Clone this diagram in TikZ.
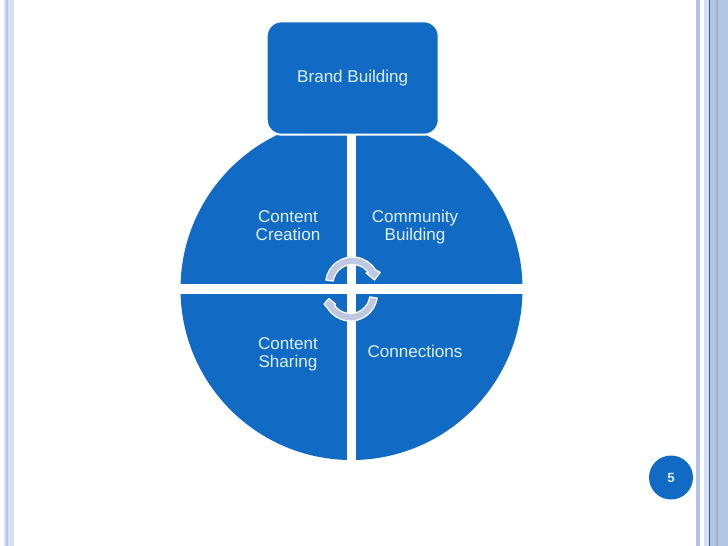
\documentclass[tikz,border=0pt]{standalone}
\usepackage{fontspec}
\setmainfont{Liberation Sans}
\usepackage{tikz}

\definecolor{colBlue}{HTML}{116BC4}
\definecolor{colText}{HTML}{DDF0FB}
\definecolor{colBand}{HTML}{B4C5E4}
\definecolor{colBandDark}{HTML}{9DB3D8}
\definecolor{colPale}{HTML}{D5DFF1}
\definecolor{colArrow}{HTML}{BFC8E2}

\tikzset{
  quadLabel/.style={text=colText, font=\fontsize{12.8}{13.6}\selectfont, align=center},
  turnArrow/.style={fill=colArrow, draw=white, line width=0.9pt, line join=round},
}

\begin{document}
\begin{tikzpicture}[x=0.75pt,y=-0.75pt]

% Pagina
\useasboundingbox (0,0) rectangle (728,546);
\fill[white] (0,0) rectangle (728,546);

% Bande a sinistra
\fill[colPale] (4,0) rectangle (14,546);
\fill[colBand] (6,0) rectangle (8,546);

% Bande a destra
\fill[colBand] (696,0) rectangle (699.5,546);
\fill[colPale] (704,0) rectangle (709,546);
\fill[colBand] (709,0) rectangle (728,546);
\fill[colBandDark] (716,0) rectangle (717.5,546);
\fill[colBlue] (709,0) rectangle (710,546);

% Quadranti
\begin{scope}
\clip (351.5,289) circle (171);
\fill[colBlue] (100,100) rectangle (346.8,284);
\fill[colBlue] (356.2,100) rectangle (600,284);
\fill[colBlue] (100,294) rectangle (346.8,500);
\fill[colBlue] (356.2,294) rectangle (600,500);
\end{scope}

% Box in alto
\node[fill=colBlue, draw=white, line width=1.5pt, rounded corners=11pt,
  minimum width=129pt, minimum height=85pt, inner sep=0pt,
  text=colText, font=\fontsize{12.8}{13.6}\selectfont] (brand) at (352.7,78) {\raisebox{-0.7pt}{Brand Building}};

% Etichette dei quadranti
\node[quadLabel] (creation) at (288,225.5) {Content\\Creation};
\node[quadLabel] (community) at (415,227) {Community\\Building};
\node[quadLabel] (sharing) at (288,354) {Content\\Sharing};
\node[quadLabel] (connections) at (415,351.5) {Connections};

% Frecce al centro
\draw[turnArrow] (325.8,280) arc[start angle=188.5,end angle=328,radius=27]
  -- (380.2,272.3) -- (374.5,280) -- (366,273) -- (368.5,272.8)
  arc[start angle=325,end angle=188.5,radius=19.5] -- cycle;
\draw[turnArrow] (377.2,298) arc[start angle=8.5,end angle=148,radius=27]
  -- (324,304) -- (329,298.5) -- (335.5,304) -- (334.5,305.2)
  arc[start angle=145,end angle=8.5,radius=19.5] -- cycle;

% Numero di pagina
\node[circle, fill=colBlue, minimum size=33pt, inner sep=0pt, text=colText,
  font=\fontsize{10}{12}\selectfont\bfseries] (pagenum) at (671,477.5) {5};

\end{tikzpicture}
\end{document}
